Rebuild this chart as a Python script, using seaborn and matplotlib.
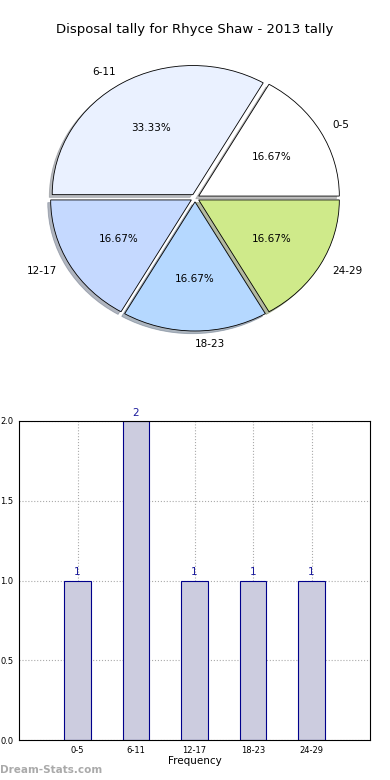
import matplotlib
matplotlib.use('Agg')
import matplotlib.pyplot as plt
import seaborn as sns
import pandas as pd

# Data
groups = ['0-5', '6-11', '12-17', '18-23', '24-29']
counts = [1, 2, 1, 1, 1]
pie_colors = ['#ffffff', '#eaf1ff', '#c5d9ff', '#b5d8ff', '#cfea8a']

sns.set_style('white')
plt.rcParams['font.family'] = ['DejaVu Sans']
plt.rcParams['text.color'] = 'black'
plt.rcParams['xtick.color'] = 'black'
plt.rcParams['ytick.color'] = 'black'
plt.rcParams['axes.labelcolor'] = 'black'

fig = plt.figure(figsize=(3.9, 7.8), dpi=100)

# Pie chart
ax_pie = fig.add_axes([6.5 / 390, 1 - 371 / 780, 377 / 390, 346 / 780])
ax_pie.pie(counts, labels=groups, colors=pie_colors, autopct='%.2f%%',
           startangle=0, counterclock=True, explode=[0.03] * len(counts),
           shadow={'ox': -0.015, 'oy': -0.015, 'shade': 0.5},
           labeldistance=1.1, pctdistance=0.6,
           wedgeprops={'edgecolor': 'black', 'linewidth': 0.6},
           textprops={'fontsize': 7.5, 'color': 'black'})
ax_pie.set_aspect('auto')
ax_pie.set_xlim(-1.34, 1.34)
ax_pie.set_ylim(-1.34, 1.34)
fig.text(0.5, 1 - 30 / 780, 'Disposal tally for Rhyce Shaw - 2013 tally',
         ha='center', va='center', fontsize=9.5, color='black')

# Bar chart
df = pd.DataFrame({'group': groups, 'count': counts})
ax_bar = fig.add_axes([19 / 390, 40 / 780, 351 / 390, 319 / 780])
sns.barplot(data=df, x='group', y='count', ax=ax_bar, width=0.45,
            color='#ccccdf', edgecolor='#00008b', linewidth=0.8,
            saturation=1)
for i, c in enumerate(counts):
    ax_bar.text(i, c + 0.02, str(c), ha='center', va='bottom',
                fontsize=7.5, color='#1a1a9c')
ax_bar.set_xlim(-1, 5)
ax_bar.set_ylim(0, 2)
ax_bar.set_yticks([0.0, 0.5, 1.0, 1.5, 2.0])
ax_bar.set_yticklabels(['0.0', '0.5', '1.0', '1.5', '2.0'])
ax_bar.tick_params(axis='both', labelsize=6, length=2, pad=2)
ax_bar.set_xlabel('Frequency', fontsize=7.5, labelpad=1)
ax_bar.set_ylabel('')
ax_bar.grid(True, linestyle=':', color='#aaaaaa', linewidth=0.8)
ax_bar.set_axisbelow(True)
for s in ax_bar.spines.values():
    s.set_color('black')
    s.set_linewidth(0.8)

fig.text(0.0, 1 - 770 / 780, 'Dream-Stats.com', ha='left', va='center',
         fontsize=7.5, color='#aaaaaa', fontweight='bold')

fig.savefig('out.png', dpi=100)
